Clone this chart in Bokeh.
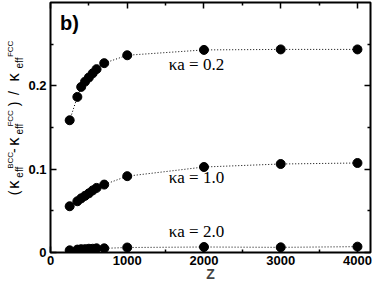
from math import pi
from bokeh.plotting import figure
from bokeh.layouts import row
from bokeh.models import Range1d, LinearAxis, Label, FixedTicker, CustomJSTickFormatter, ColumnDataSource
from bokeh.core.properties import value
from bokeh.embed import file_html
from bokeh.resources import INLINE

# ---- data ----
z = [250, 350, 400, 450, 500, 550, 600, 700, 1000, 2000, 3000, 4000]
ka02 = [0.1587, 0.1867, 0.1987, 0.205, 0.210, 0.215, 0.220, 0.2272, 0.2367, 0.2431, 0.2437, 0.2437]
ka10 = [0.0555, 0.0615, 0.065, 0.068, 0.071, 0.0745, 0.0775, 0.0815, 0.0916, 0.1026, 0.1062, 0.1074]
ka20 = [0.0026, 0.0035, 0.004, 0.004, 0.0045, 0.0045, 0.005, 0.005, 0.006, 0.0066, 0.0062, 0.007]
series = [ka02, ka10, ka20]
series_labels = ["κa = 0.2", "κa = 1.0", "κa = 2.0"]
label_y = [0.2143, 0.0787, 0.0139]
label_x = 1540
x_ticks = [0, 1000, 2000, 3000, 4000]
x_minor = [500, 1500, 2500, 3500]
y_ticks = [0, 0.1, 0.2]
y_minor = [0.05, 0.15, 0.25]
y_tick_labels = {0: "0", 0.1: "0.1", 0.2: "0.2"}
panel_tag = "b)"
x_title = "Z"
# y-axis title pieces
title_text = ["(", "κ", "eff", "BCC", "-", "κ", "eff", "FCC", ")", "/", "κ", "eff", "FCC"]

SANS = "Liberation Sans"
SERIF = "Liberation Serif"
W, H = 374, 284
TITLE_W = 25
X_MAX, Y_MAX = 4170, 0.3
FRAME_L, FRAME_R, FRAME_T, FRAME_B = 48, 370, 2, 252

# ---- y-axis title strip (separate narrow figure, pixel coordinates) ----
t = figure(width=TITLE_W, height=H, output_backend="svg", toolbar_location=None,
           x_range=Range1d(0, TITLE_W), y_range=Range1d(0, H),
           x_axis_location=None, y_axis_location=None,
           min_border_left=0, min_border_right=0, min_border_top=0, min_border_bottom=0,
           outline_line_color=None, background_fill_color="white", border_fill_color="white")
t.xgrid.visible = False
t.ygrid.visible = False
# font px, baseline x (px from left) and start y (px from top) of each piece
piece_size = [14, 17, 10, 8, 14, 17, 10, 8, 14, 14, 17, 10, 8]
piece_bx = [13, 13, 19, 10, 13, 13, 19, 10, 13, 13, 13, 19, 10]
piece_sy = [219, 212, 199, 189, 171, 163, 150, 141, 118, 105, 90, 75, 62]
src = ColumnDataSource(dict(x=piece_bx, y=[H - s for s in piece_sy], text=title_text,
                            size=[f"{s}px" for s in piece_size]))
t.text(x="x", y="y", text="text", source=src, angle=pi / 2, text_align="left",
       text_baseline="alphabetic", text_font=value(SANS), text_font_size="size",
       text_color="black")

# ---- main plot ----
p = figure(width=W - TITLE_W, height=H, output_backend="svg", toolbar_location=None,
           x_range=Range1d(0, X_MAX), y_range=Range1d(0, Y_MAX),
           min_border_left=FRAME_L - TITLE_W, min_border_right=W - FRAME_R,
           min_border_top=FRAME_T, min_border_bottom=H - FRAME_B,
           background_fill_color="white", border_fill_color="white")
p.xgrid.visible = False
p.ygrid.visible = False
p.outline_line_color = "black"
p.outline_line_width = 2


def style_axis(ax, ticks, minor, show_labels):
    ax.ticker = FixedTicker(ticks=ticks, minor_ticks=minor)
    ax.axis_line_color = None
    ax.major_tick_in = 6
    ax.major_tick_out = 0
    ax.minor_tick_in = 3
    ax.minor_tick_out = 0
    ax.major_tick_line_width = 1.5
    ax.minor_tick_line_width = 1.5
    ax.major_tick_line_color = "black"
    ax.minor_tick_line_color = "black"
    if show_labels:
        ax.major_label_text_font = SANS
        ax.major_label_text_font_style = "bold"
        ax.major_label_text_font_size = "13px"
        ax.major_label_text_color = "black"
        ax.major_label_standoff = 4
    else:
        ax.formatter = CustomJSTickFormatter(code="return ''")
        ax.major_label_text_font_size = "0px"
        ax.major_label_standoff = 0
        ax.axis_label_standoff = 0


style_axis(p.xaxis[0], x_ticks, x_minor, True)
style_axis(p.yaxis[0], y_ticks, y_minor, True)
p.yaxis[0].major_label_overrides = y_tick_labels
p.yaxis[0].major_label_standoff = 4
p.xaxis[0].major_label_standoff = 3
p.xaxis[0].axis_label = x_title
p.xaxis[0].axis_label_text_font = SANS
p.xaxis[0].axis_label_text_font_style = "bold"
p.xaxis[0].axis_label_text_font_size = "14px"
p.xaxis[0].axis_label_standoff = -2

top = LinearAxis()
style_axis(top, x_ticks, x_minor, False)
p.add_layout(top, "above")
right = LinearAxis()
style_axis(right, y_ticks, y_minor, False)
p.add_layout(right, "right")

for ys, lab, ly in zip(series, series_labels, label_y):
    p.line(z, ys, line_color="black", line_width=1, line_dash="1 2")
    p.scatter(z, ys, size=9, color="black")
    p.add_layout(Label(x=label_x, y=ly, text=lab, text_font=SERIF,
                       text_font_size="17px", text_color="black"))

p.add_layout(Label(x=125, y=0.2618, text=panel_tag, text_font=SANS,
                   text_font_style="bold", text_font_size="20px", text_color="black"))

layout = row(t, p, spacing=0)
open("out.html", "w").write(file_html(layout, INLINE))
